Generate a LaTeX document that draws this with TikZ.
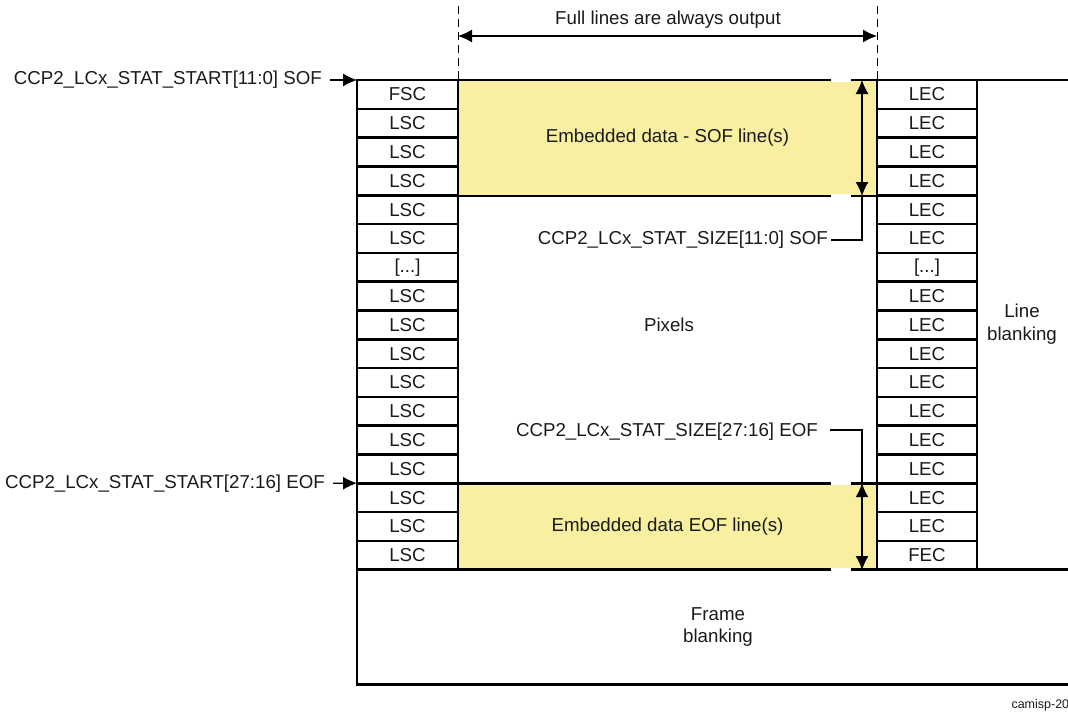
\documentclass[tikz,border=0pt]{standalone}
\usepackage{fontspec}
\setmainfont{Liberation Sans}
\usetikzlibrary{arrows.meta,positioning}
\definecolor{DataYellow}{HTML}{F8F0A0}
\definecolor{InkGray}{HTML}{1A1A1A}
\newcommand{\rowdots}{[...]}

\begin{document}
\begin{tikzpicture}[
    x=1pt, y=-1pt,
    every node/.style={font=\fontsize{18.7}{22.4}\selectfont, text=InkGray},
    cell/.style={
      draw,
      line width=2.6pt,
      minimum width=101pt,
      minimum height=28.8pt,
      inner sep=0pt,
      outer sep=0pt
    },
    datablk/.style={
      draw,
      line width=2.6pt,
      fill=DataYellow,
      minimum width=419pt,
      inner sep=0pt,
      outer sep=0pt
    },
    sig/.style={inner sep=0pt},
    frame/.style={line width=2.6pt},
    gap/.style={white, line width=3.2pt},
    guide/.style={dash pattern=on 8pt off 5pt, line width=1pt},
    flow/.style={-{Latex[length=14pt,width=13pt]}, line width=1.2pt},
    span/.style={{Latex[length=14pt,width=13pt]}-{Latex[length=14pt,width=13pt]}, line width=1.2pt},
    lead/.style={line width=2.6pt}
  ]
    \clip (0,0) rectangle (1068,713);

    % embedded data lines
    \node[datablk, minimum height=116pt] (sofdata) at (667.5,138) {Embedded data - SOF line(s)};
    \node[datablk, minimum height=86.8pt] (eofdata) at (667.5,526.6) {Embedded data EOF line(s)};

    % line start / end codes
    \foreach \txt [count=\i] in {FSC,LSC,LSC,LSC,LSC,LSC,\rowdots,LSC,LSC,LSC,LSC,LSC,LSC,LSC,LSC,LSC,LSC}
      \node[cell] (lc\i) at (407.5,{80+28.8*(\i-0.5)}) {\txt};
    \foreach \txt [count=\i] in {LEC,LEC,LEC,LEC,LEC,LEC,\rowdots,LEC,LEC,LEC,LEC,LEC,LEC,LEC,LEC,LEC,FEC}
      \node[cell, minimum width=100pt] (rc\i) at (927,{80+28.8*(\i-0.5)}) {\txt};

    \draw[frame] (rc1.north east) -- ++(110,0);
    \node[draw, line width=2.6pt, outer sep=0pt, anchor=north west, minimum width=722pt,
      minimum height=115pt, align=center] (frameblank) at (lc17.south west) {Frame\\blanking};

    \node (pixels) at (669,325) {Pixels};
    \node[align=center] (lineblank) at (1022,324) {Line\\blanking};
    \node (fulllines) at (668,20) {Full lines are always output};
    \node[font=\fontsize{12.5}{15}\selectfont, anchor=west] (tag) at (1008,705) {camisp-20};

    \node[sig, anchor=east] (startsof) at (322,80) {CCP2\_LCx\_STAT\_START[11:0] SOF};
    \node[sig, anchor=east] (starteof) at (325,483.2) {CCP2\_LCx\_STAT\_START[27:16] EOF};
    \node[sig, anchor=east] (sizesof) at (828,240) {CCP2\_LCx\_STAT\_SIZE[11:0] SOF};
    \node[sig, anchor=east] (sizeeof) at (818,432) {CCP2\_LCx\_STAT\_SIZE[27:16] EOF};

    % breaks in the frame lines
    \foreach \yy in {80,196,483.2,570}
      \draw[gap] (831,\yy) -- (851,\yy);

    \coordinate (guideL) at (458,6);
    \coordinate (guideR) at (877,6);
    \coordinate (spanL) at (458,36);
    \coordinate (spanR) at (877,36);
    \coordinate (softop) at (862,80);
    \coordinate (sofbot) at (862,196);
    \coordinate (eoftop) at (862,483.2);
    \coordinate (eofbot) at (862,570);

    \draw[guide] (guideL) -- (sofdata.north west);
    \draw[guide] (guideR) -- (sofdata.north east);
    \draw[span] (spanL) -- (spanR);

    \draw[flow] ([xshift=8pt]startsof.east) -- (lc1.north west);
    \draw[flow] ([xshift=8pt]starteof.east) -- (lc15.north west);

    \draw[span] (softop) -- (sofbot);
    \draw[span] (eoftop) -- (eofbot);
    \draw[lead] ([xshift=3pt]sizesof.east) -| (sofbot);
    \draw[lead] ([xshift=12pt,yshift=2pt]sizeeof.east) -| (eoftop);
  \end{tikzpicture}
\end{document}
